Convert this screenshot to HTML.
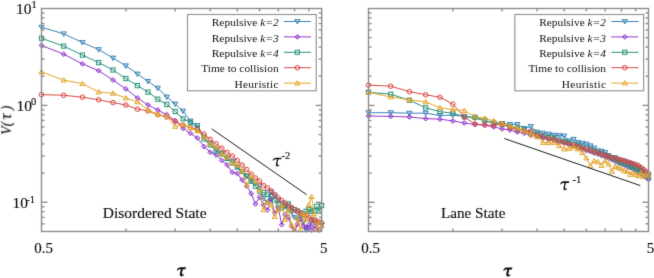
<!DOCTYPE html>
<html><head><meta charset="utf-8"><style>
html,body{margin:0;padding:0;background:#fff;width:654px;height:278px;overflow:hidden;}
svg{display:block;font-family:"Liberation Serif",serif;}
text{stroke:#111;stroke-width:0.15px;} text[stroke=none]{stroke:none;}
</style></head><body>
<svg width="654" height="278" viewBox="0 0 654 278" fill="#111">
<defs><filter id="bl" x="0" y="0" width="1" height="1" color-interpolation-filters="sRGB"><feConvolveMatrix order="3" kernelMatrix="0.01 0.08 0.01 0.08 0.64 0.08 0.01 0.08 0.01" edgeMode="duplicate" preserveAlpha="true"/></filter><clipPath id="c1"><rect x="41.5" y="8.5" width="280.20" height="223.0"/></clipPath><clipPath id="c2"><rect x="368.5" y="8.5" width="280.00" height="223.0"/></clipPath></defs>
<g filter="url(#bl)">
<rect x="-4" y="-4" width="662" height="286" fill="#fff"/>
<path clip-path="url(#c1)" d="M41.50,27.30L63.69,33.80L82.45,42.50L98.69,49.60L113.03,58.00L125.85,65.80L137.45,74.00L148.04,81.40L157.78,88.20L166.79,97.00L175.19,104.00L183.04,111.00L190.42,121.00L197.38,125.50L203.96,137.00L210.20,143.00L216.13,149.50L221.80,153.50L227.20,158.00L232.38,161.50L237.35,167.50L242.12,171.50L246.72,176.00L251.14,180.50L255.41,184.00L259.54,186.00L263.53,198.30L267.39,202.40L271.14,191.90L274.77,196.00L278.30,200.00L281.72,203.00L285.06,206.00L288.30,209.70L291.46,212.00L294.55,217.60L297.55,219.00L300.48,218.00L303.35,221.70L306.14,229.80L308.88,227.40L311.55,222.00L314.17,220.00L316.73,224.00L319.24,222.00L321.70,225.00" fill="none" stroke="#3a82b6" stroke-width="1"/>
<path d="M38.90,25.38L44.10,25.38L41.50,29.82Z" fill="#3a82b6" fill-opacity="0.15" stroke="#3a82b6" stroke-width="1"/>
<path d="M61.09,31.88L66.29,31.88L63.69,36.32Z" fill="#3a82b6" fill-opacity="0.15" stroke="#3a82b6" stroke-width="1"/>
<path d="M79.85,40.58L85.05,40.58L82.45,45.02Z" fill="#3a82b6" fill-opacity="0.15" stroke="#3a82b6" stroke-width="1"/>
<path d="M96.09,47.68L101.29,47.68L98.69,52.12Z" fill="#3a82b6" fill-opacity="0.15" stroke="#3a82b6" stroke-width="1"/>
<path d="M110.43,56.08L115.63,56.08L113.03,60.52Z" fill="#3a82b6" fill-opacity="0.15" stroke="#3a82b6" stroke-width="1"/>
<path d="M123.25,63.88L128.45,63.88L125.85,68.32Z" fill="#3a82b6" fill-opacity="0.15" stroke="#3a82b6" stroke-width="1"/>
<path d="M134.85,72.08L140.05,72.08L137.45,76.52Z" fill="#3a82b6" fill-opacity="0.15" stroke="#3a82b6" stroke-width="1"/>
<path d="M145.44,79.48L150.64,79.48L148.04,83.92Z" fill="#3a82b6" fill-opacity="0.15" stroke="#3a82b6" stroke-width="1"/>
<path d="M155.18,86.28L160.38,86.28L157.78,90.72Z" fill="#3a82b6" fill-opacity="0.15" stroke="#3a82b6" stroke-width="1"/>
<path d="M164.19,95.08L169.39,95.08L166.79,99.52Z" fill="#3a82b6" fill-opacity="0.15" stroke="#3a82b6" stroke-width="1"/>
<path d="M172.59,102.08L177.79,102.08L175.19,106.52Z" fill="#3a82b6" fill-opacity="0.15" stroke="#3a82b6" stroke-width="1"/>
<path d="M180.44,109.08L185.64,109.08L183.04,113.52Z" fill="#3a82b6" fill-opacity="0.15" stroke="#3a82b6" stroke-width="1"/>
<path d="M187.82,119.08L193.02,119.08L190.42,123.52Z" fill="#3a82b6" fill-opacity="0.15" stroke="#3a82b6" stroke-width="1"/>
<path d="M194.78,123.58L199.98,123.58L197.38,128.02Z" fill="#3a82b6" fill-opacity="0.15" stroke="#3a82b6" stroke-width="1"/>
<path d="M201.36,135.08L206.56,135.08L203.96,139.52Z" fill="#3a82b6" fill-opacity="0.15" stroke="#3a82b6" stroke-width="1"/>
<path d="M207.60,141.08L212.80,141.08L210.20,145.52Z" fill="#3a82b6" fill-opacity="0.15" stroke="#3a82b6" stroke-width="1"/>
<path d="M213.53,147.58L218.73,147.58L216.13,152.02Z" fill="#3a82b6" fill-opacity="0.15" stroke="#3a82b6" stroke-width="1"/>
<path d="M219.20,151.58L224.40,151.58L221.80,156.02Z" fill="#3a82b6" fill-opacity="0.15" stroke="#3a82b6" stroke-width="1"/>
<path d="M224.60,156.08L229.80,156.08L227.20,160.52Z" fill="#3a82b6" fill-opacity="0.15" stroke="#3a82b6" stroke-width="1"/>
<path d="M229.78,159.58L234.98,159.58L232.38,164.02Z" fill="#3a82b6" fill-opacity="0.15" stroke="#3a82b6" stroke-width="1"/>
<path d="M234.75,165.58L239.95,165.58L237.35,170.02Z" fill="#3a82b6" fill-opacity="0.15" stroke="#3a82b6" stroke-width="1"/>
<path d="M239.52,169.58L244.72,169.58L242.12,174.02Z" fill="#3a82b6" fill-opacity="0.15" stroke="#3a82b6" stroke-width="1"/>
<path d="M244.12,174.08L249.32,174.08L246.72,178.52Z" fill="#3a82b6" fill-opacity="0.15" stroke="#3a82b6" stroke-width="1"/>
<path d="M248.54,178.58L253.74,178.58L251.14,183.02Z" fill="#3a82b6" fill-opacity="0.15" stroke="#3a82b6" stroke-width="1"/>
<path d="M252.81,182.08L258.01,182.08L255.41,186.52Z" fill="#3a82b6" fill-opacity="0.15" stroke="#3a82b6" stroke-width="1"/>
<path d="M256.94,184.08L262.14,184.08L259.54,188.52Z" fill="#3a82b6" fill-opacity="0.15" stroke="#3a82b6" stroke-width="1"/>
<path d="M260.93,196.38L266.13,196.38L263.53,200.82Z" fill="#3a82b6" fill-opacity="0.15" stroke="#3a82b6" stroke-width="1"/>
<path d="M264.79,200.48L269.99,200.48L267.39,204.92Z" fill="#3a82b6" fill-opacity="0.15" stroke="#3a82b6" stroke-width="1"/>
<path d="M268.54,189.98L273.74,189.98L271.14,194.42Z" fill="#3a82b6" fill-opacity="0.15" stroke="#3a82b6" stroke-width="1"/>
<path d="M272.17,194.08L277.37,194.08L274.77,198.52Z" fill="#3a82b6" fill-opacity="0.15" stroke="#3a82b6" stroke-width="1"/>
<path d="M275.70,198.08L280.90,198.08L278.30,202.52Z" fill="#3a82b6" fill-opacity="0.15" stroke="#3a82b6" stroke-width="1"/>
<path d="M279.12,201.08L284.32,201.08L281.72,205.52Z" fill="#3a82b6" fill-opacity="0.15" stroke="#3a82b6" stroke-width="1"/>
<path d="M282.46,204.08L287.66,204.08L285.06,208.52Z" fill="#3a82b6" fill-opacity="0.15" stroke="#3a82b6" stroke-width="1"/>
<path d="M285.70,207.78L290.90,207.78L288.30,212.22Z" fill="#3a82b6" fill-opacity="0.15" stroke="#3a82b6" stroke-width="1"/>
<path d="M288.86,210.08L294.06,210.08L291.46,214.52Z" fill="#3a82b6" fill-opacity="0.15" stroke="#3a82b6" stroke-width="1"/>
<path d="M291.95,215.68L297.15,215.68L294.55,220.12Z" fill="#3a82b6" fill-opacity="0.15" stroke="#3a82b6" stroke-width="1"/>
<path d="M294.95,217.08L300.15,217.08L297.55,221.52Z" fill="#3a82b6" fill-opacity="0.15" stroke="#3a82b6" stroke-width="1"/>
<path d="M297.88,216.08L303.08,216.08L300.48,220.52Z" fill="#3a82b6" fill-opacity="0.15" stroke="#3a82b6" stroke-width="1"/>
<path d="M300.75,219.78L305.95,219.78L303.35,224.22Z" fill="#3a82b6" fill-opacity="0.15" stroke="#3a82b6" stroke-width="1"/>
<path d="M303.54,227.88L308.74,227.88L306.14,232.32Z" fill="#3a82b6" fill-opacity="0.15" stroke="#3a82b6" stroke-width="1"/>
<path d="M306.28,225.48L311.48,225.48L308.88,229.92Z" fill="#3a82b6" fill-opacity="0.15" stroke="#3a82b6" stroke-width="1"/>
<path d="M308.95,220.08L314.15,220.08L311.55,224.52Z" fill="#3a82b6" fill-opacity="0.15" stroke="#3a82b6" stroke-width="1"/>
<path d="M311.57,218.08L316.77,218.08L314.17,222.52Z" fill="#3a82b6" fill-opacity="0.15" stroke="#3a82b6" stroke-width="1"/>
<path d="M314.13,222.08L319.33,222.08L316.73,226.52Z" fill="#3a82b6" fill-opacity="0.15" stroke="#3a82b6" stroke-width="1"/>
<path d="M316.64,220.08L321.84,220.08L319.24,224.52Z" fill="#3a82b6" fill-opacity="0.15" stroke="#3a82b6" stroke-width="1"/>
<path d="M319.10,223.08L324.30,223.08L321.70,227.52Z" fill="#3a82b6" fill-opacity="0.15" stroke="#3a82b6" stroke-width="1"/>
<path clip-path="url(#c1)" d="M41.50,45.40L63.69,54.20L82.45,63.90L98.69,70.70L113.03,80.10L125.85,88.90L137.45,97.90L148.04,105.00L157.78,110.00L166.79,114.70L175.19,120.60L183.04,128.40L190.42,133.40L197.38,138.00L203.96,146.60L210.20,152.30L216.13,155.00L221.80,160.50L227.20,165.00L232.38,172.40L237.35,173.50L242.12,180.00L246.72,186.00L251.14,193.50L255.41,204.00L259.54,197.00L263.53,205.00L267.39,210.00L271.14,199.00L274.77,213.00L278.30,208.00L281.72,224.60L285.06,214.70L288.30,217.60L291.46,226.00L294.55,232.00L297.55,224.10L300.48,219.30L303.35,226.00L306.14,228.00L308.88,225.00L311.55,230.00L314.17,226.00L316.73,228.00L319.24,230.00L321.70,232.00" fill="none" stroke="#9236cc" stroke-width="1"/>
<path d="M41.50,43.00L43.90,45.40L41.50,47.80L39.10,45.40Z" fill="#9236cc" fill-opacity="0.3" stroke="#9236cc" stroke-width="1"/>
<path d="M63.69,51.80L66.09,54.20L63.69,56.60L61.29,54.20Z" fill="#9236cc" fill-opacity="0.3" stroke="#9236cc" stroke-width="1"/>
<path d="M82.45,61.50L84.85,63.90L82.45,66.30L80.05,63.90Z" fill="#9236cc" fill-opacity="0.3" stroke="#9236cc" stroke-width="1"/>
<path d="M98.69,68.30L101.09,70.70L98.69,73.10L96.29,70.70Z" fill="#9236cc" fill-opacity="0.3" stroke="#9236cc" stroke-width="1"/>
<path d="M113.03,77.70L115.43,80.10L113.03,82.50L110.63,80.10Z" fill="#9236cc" fill-opacity="0.3" stroke="#9236cc" stroke-width="1"/>
<path d="M125.85,86.50L128.25,88.90L125.85,91.30L123.45,88.90Z" fill="#9236cc" fill-opacity="0.3" stroke="#9236cc" stroke-width="1"/>
<path d="M137.45,95.50L139.85,97.90L137.45,100.30L135.05,97.90Z" fill="#9236cc" fill-opacity="0.3" stroke="#9236cc" stroke-width="1"/>
<path d="M148.04,102.60L150.44,105.00L148.04,107.40L145.64,105.00Z" fill="#9236cc" fill-opacity="0.3" stroke="#9236cc" stroke-width="1"/>
<path d="M157.78,107.60L160.18,110.00L157.78,112.40L155.38,110.00Z" fill="#9236cc" fill-opacity="0.3" stroke="#9236cc" stroke-width="1"/>
<path d="M166.79,112.30L169.19,114.70L166.79,117.10L164.39,114.70Z" fill="#9236cc" fill-opacity="0.3" stroke="#9236cc" stroke-width="1"/>
<path d="M175.19,118.20L177.59,120.60L175.19,123.00L172.79,120.60Z" fill="#9236cc" fill-opacity="0.3" stroke="#9236cc" stroke-width="1"/>
<path d="M183.04,126.00L185.44,128.40L183.04,130.80L180.64,128.40Z" fill="#9236cc" fill-opacity="0.3" stroke="#9236cc" stroke-width="1"/>
<path d="M190.42,131.00L192.82,133.40L190.42,135.80L188.02,133.40Z" fill="#9236cc" fill-opacity="0.3" stroke="#9236cc" stroke-width="1"/>
<path d="M197.38,135.60L199.78,138.00L197.38,140.40L194.98,138.00Z" fill="#9236cc" fill-opacity="0.3" stroke="#9236cc" stroke-width="1"/>
<path d="M203.96,144.20L206.36,146.60L203.96,149.00L201.56,146.60Z" fill="#9236cc" fill-opacity="0.3" stroke="#9236cc" stroke-width="1"/>
<path d="M210.20,149.90L212.60,152.30L210.20,154.70L207.80,152.30Z" fill="#9236cc" fill-opacity="0.3" stroke="#9236cc" stroke-width="1"/>
<path d="M216.13,152.60L218.53,155.00L216.13,157.40L213.73,155.00Z" fill="#9236cc" fill-opacity="0.3" stroke="#9236cc" stroke-width="1"/>
<path d="M221.80,158.10L224.20,160.50L221.80,162.90L219.40,160.50Z" fill="#9236cc" fill-opacity="0.3" stroke="#9236cc" stroke-width="1"/>
<path d="M227.20,162.60L229.60,165.00L227.20,167.40L224.80,165.00Z" fill="#9236cc" fill-opacity="0.3" stroke="#9236cc" stroke-width="1"/>
<path d="M232.38,170.00L234.78,172.40L232.38,174.80L229.98,172.40Z" fill="#9236cc" fill-opacity="0.3" stroke="#9236cc" stroke-width="1"/>
<path d="M237.35,171.10L239.75,173.50L237.35,175.90L234.95,173.50Z" fill="#9236cc" fill-opacity="0.3" stroke="#9236cc" stroke-width="1"/>
<path d="M242.12,177.60L244.52,180.00L242.12,182.40L239.72,180.00Z" fill="#9236cc" fill-opacity="0.3" stroke="#9236cc" stroke-width="1"/>
<path d="M246.72,183.60L249.12,186.00L246.72,188.40L244.32,186.00Z" fill="#9236cc" fill-opacity="0.3" stroke="#9236cc" stroke-width="1"/>
<path d="M251.14,191.10L253.54,193.50L251.14,195.90L248.74,193.50Z" fill="#9236cc" fill-opacity="0.3" stroke="#9236cc" stroke-width="1"/>
<path d="M255.41,201.60L257.81,204.00L255.41,206.40L253.01,204.00Z" fill="#9236cc" fill-opacity="0.3" stroke="#9236cc" stroke-width="1"/>
<path d="M259.54,194.60L261.94,197.00L259.54,199.40L257.14,197.00Z" fill="#9236cc" fill-opacity="0.3" stroke="#9236cc" stroke-width="1"/>
<path d="M263.53,202.60L265.93,205.00L263.53,207.40L261.13,205.00Z" fill="#9236cc" fill-opacity="0.3" stroke="#9236cc" stroke-width="1"/>
<path d="M267.39,207.60L269.79,210.00L267.39,212.40L264.99,210.00Z" fill="#9236cc" fill-opacity="0.3" stroke="#9236cc" stroke-width="1"/>
<path d="M271.14,196.60L273.54,199.00L271.14,201.40L268.74,199.00Z" fill="#9236cc" fill-opacity="0.3" stroke="#9236cc" stroke-width="1"/>
<path d="M274.77,210.60L277.17,213.00L274.77,215.40L272.37,213.00Z" fill="#9236cc" fill-opacity="0.3" stroke="#9236cc" stroke-width="1"/>
<path d="M278.30,205.60L280.70,208.00L278.30,210.40L275.90,208.00Z" fill="#9236cc" fill-opacity="0.3" stroke="#9236cc" stroke-width="1"/>
<path d="M281.72,222.20L284.12,224.60L281.72,227.00L279.32,224.60Z" fill="#9236cc" fill-opacity="0.3" stroke="#9236cc" stroke-width="1"/>
<path d="M285.06,212.30L287.46,214.70L285.06,217.10L282.66,214.70Z" fill="#9236cc" fill-opacity="0.3" stroke="#9236cc" stroke-width="1"/>
<path d="M288.30,215.20L290.70,217.60L288.30,220.00L285.90,217.60Z" fill="#9236cc" fill-opacity="0.3" stroke="#9236cc" stroke-width="1"/>
<path d="M291.46,223.60L293.86,226.00L291.46,228.40L289.06,226.00Z" fill="#9236cc" fill-opacity="0.3" stroke="#9236cc" stroke-width="1"/>
<path d="M297.55,221.70L299.95,224.10L297.55,226.50L295.15,224.10Z" fill="#9236cc" fill-opacity="0.3" stroke="#9236cc" stroke-width="1"/>
<path d="M300.48,216.90L302.88,219.30L300.48,221.70L298.08,219.30Z" fill="#9236cc" fill-opacity="0.3" stroke="#9236cc" stroke-width="1"/>
<path d="M303.35,223.60L305.75,226.00L303.35,228.40L300.95,226.00Z" fill="#9236cc" fill-opacity="0.3" stroke="#9236cc" stroke-width="1"/>
<path d="M306.14,225.60L308.54,228.00L306.14,230.40L303.74,228.00Z" fill="#9236cc" fill-opacity="0.3" stroke="#9236cc" stroke-width="1"/>
<path d="M308.88,222.60L311.28,225.00L308.88,227.40L306.48,225.00Z" fill="#9236cc" fill-opacity="0.3" stroke="#9236cc" stroke-width="1"/>
<path d="M311.55,227.60L313.95,230.00L311.55,232.40L309.15,230.00Z" fill="#9236cc" fill-opacity="0.3" stroke="#9236cc" stroke-width="1"/>
<path d="M314.17,223.60L316.57,226.00L314.17,228.40L311.77,226.00Z" fill="#9236cc" fill-opacity="0.3" stroke="#9236cc" stroke-width="1"/>
<path d="M316.73,225.60L319.13,228.00L316.73,230.40L314.33,228.00Z" fill="#9236cc" fill-opacity="0.3" stroke="#9236cc" stroke-width="1"/>
<path d="M319.24,227.60L321.64,230.00L319.24,232.40L316.84,230.00Z" fill="#9236cc" fill-opacity="0.3" stroke="#9236cc" stroke-width="1"/>
<path clip-path="url(#c1)" d="M41.50,38.30L63.69,46.10L82.45,55.10L98.69,62.60L113.03,70.00L125.85,78.50L137.45,85.60L148.04,92.10L157.78,99.20L166.79,104.40L175.19,111.50L183.04,118.80L190.42,122.50L197.38,128.00L203.96,139.00L210.20,145.00L216.13,151.00L221.80,154.00L227.20,158.50L232.38,163.00L237.35,167.00L242.12,171.50L246.72,176.00L251.14,181.30L255.41,186.20L259.54,191.00L263.53,192.50L267.39,194.30L271.14,196.50L274.77,200.00L278.30,204.80L281.72,207.70L285.06,205.70L288.30,203.80L291.46,208.70L294.55,209.70L297.55,211.00L300.48,213.00L303.35,215.00L306.14,211.20L308.88,209.60L311.55,211.50L314.17,210.50L316.73,206.30L319.24,211.20L321.70,205.50" fill="none" stroke="#27937a" stroke-width="1"/>
<rect x="39.40" y="36.20" width="4.2" height="4.2" fill="none" stroke="#27937a" stroke-width="1"/>
<rect x="61.59" y="44.00" width="4.2" height="4.2" fill="none" stroke="#27937a" stroke-width="1"/>
<rect x="80.35" y="53.00" width="4.2" height="4.2" fill="none" stroke="#27937a" stroke-width="1"/>
<rect x="96.59" y="60.50" width="4.2" height="4.2" fill="none" stroke="#27937a" stroke-width="1"/>
<rect x="110.93" y="67.90" width="4.2" height="4.2" fill="none" stroke="#27937a" stroke-width="1"/>
<rect x="123.75" y="76.40" width="4.2" height="4.2" fill="none" stroke="#27937a" stroke-width="1"/>
<rect x="135.35" y="83.50" width="4.2" height="4.2" fill="none" stroke="#27937a" stroke-width="1"/>
<rect x="145.94" y="90.00" width="4.2" height="4.2" fill="none" stroke="#27937a" stroke-width="1"/>
<rect x="155.68" y="97.10" width="4.2" height="4.2" fill="none" stroke="#27937a" stroke-width="1"/>
<rect x="164.69" y="102.30" width="4.2" height="4.2" fill="none" stroke="#27937a" stroke-width="1"/>
<rect x="173.09" y="109.40" width="4.2" height="4.2" fill="none" stroke="#27937a" stroke-width="1"/>
<rect x="180.94" y="116.70" width="4.2" height="4.2" fill="none" stroke="#27937a" stroke-width="1"/>
<rect x="188.32" y="120.40" width="4.2" height="4.2" fill="none" stroke="#27937a" stroke-width="1"/>
<rect x="195.28" y="125.90" width="4.2" height="4.2" fill="none" stroke="#27937a" stroke-width="1"/>
<rect x="201.86" y="136.90" width="4.2" height="4.2" fill="none" stroke="#27937a" stroke-width="1"/>
<rect x="208.10" y="142.90" width="4.2" height="4.2" fill="none" stroke="#27937a" stroke-width="1"/>
<rect x="214.03" y="148.90" width="4.2" height="4.2" fill="none" stroke="#27937a" stroke-width="1"/>
<rect x="219.70" y="151.90" width="4.2" height="4.2" fill="none" stroke="#27937a" stroke-width="1"/>
<rect x="225.10" y="156.40" width="4.2" height="4.2" fill="none" stroke="#27937a" stroke-width="1"/>
<rect x="230.28" y="160.90" width="4.2" height="4.2" fill="none" stroke="#27937a" stroke-width="1"/>
<rect x="235.25" y="164.90" width="4.2" height="4.2" fill="none" stroke="#27937a" stroke-width="1"/>
<rect x="240.02" y="169.40" width="4.2" height="4.2" fill="none" stroke="#27937a" stroke-width="1"/>
<rect x="244.62" y="173.90" width="4.2" height="4.2" fill="none" stroke="#27937a" stroke-width="1"/>
<rect x="249.04" y="179.20" width="4.2" height="4.2" fill="none" stroke="#27937a" stroke-width="1"/>
<rect x="253.31" y="184.10" width="4.2" height="4.2" fill="none" stroke="#27937a" stroke-width="1"/>
<rect x="257.44" y="188.90" width="4.2" height="4.2" fill="none" stroke="#27937a" stroke-width="1"/>
<rect x="261.43" y="190.40" width="4.2" height="4.2" fill="none" stroke="#27937a" stroke-width="1"/>
<rect x="265.29" y="192.20" width="4.2" height="4.2" fill="none" stroke="#27937a" stroke-width="1"/>
<rect x="269.04" y="194.40" width="4.2" height="4.2" fill="none" stroke="#27937a" stroke-width="1"/>
<rect x="272.67" y="197.90" width="4.2" height="4.2" fill="none" stroke="#27937a" stroke-width="1"/>
<rect x="276.20" y="202.70" width="4.2" height="4.2" fill="none" stroke="#27937a" stroke-width="1"/>
<rect x="279.62" y="205.60" width="4.2" height="4.2" fill="none" stroke="#27937a" stroke-width="1"/>
<rect x="282.96" y="203.60" width="4.2" height="4.2" fill="none" stroke="#27937a" stroke-width="1"/>
<rect x="286.20" y="201.70" width="4.2" height="4.2" fill="none" stroke="#27937a" stroke-width="1"/>
<rect x="289.36" y="206.60" width="4.2" height="4.2" fill="none" stroke="#27937a" stroke-width="1"/>
<rect x="292.45" y="207.60" width="4.2" height="4.2" fill="none" stroke="#27937a" stroke-width="1"/>
<rect x="295.45" y="208.90" width="4.2" height="4.2" fill="none" stroke="#27937a" stroke-width="1"/>
<rect x="298.38" y="210.90" width="4.2" height="4.2" fill="none" stroke="#27937a" stroke-width="1"/>
<rect x="301.25" y="212.90" width="4.2" height="4.2" fill="none" stroke="#27937a" stroke-width="1"/>
<rect x="304.04" y="209.10" width="4.2" height="4.2" fill="none" stroke="#27937a" stroke-width="1"/>
<rect x="306.78" y="207.50" width="4.2" height="4.2" fill="none" stroke="#27937a" stroke-width="1"/>
<rect x="309.45" y="209.40" width="4.2" height="4.2" fill="none" stroke="#27937a" stroke-width="1"/>
<rect x="312.07" y="208.40" width="4.2" height="4.2" fill="none" stroke="#27937a" stroke-width="1"/>
<rect x="314.63" y="204.20" width="4.2" height="4.2" fill="none" stroke="#27937a" stroke-width="1"/>
<rect x="317.14" y="209.10" width="4.2" height="4.2" fill="none" stroke="#27937a" stroke-width="1"/>
<rect x="319.60" y="203.40" width="4.2" height="4.2" fill="none" stroke="#27937a" stroke-width="1"/>
<path clip-path="url(#c1)" d="M41.50,94.60L63.69,95.30L82.45,97.20L98.69,99.80L113.03,102.60L125.85,105.00L137.45,109.20L148.04,110.90L157.78,114.70L166.79,117.00L175.19,121.20L183.04,125.10L190.42,127.70L197.38,129.60L203.96,134.00L210.20,139.40L216.13,143.80L221.80,148.30L227.20,152.40L232.38,156.00L237.35,160.50L242.12,165.00L246.72,169.50L251.14,174.00L255.41,178.00L259.54,181.00L263.53,185.50L267.39,188.00L271.14,191.00L274.77,194.50L278.30,198.00L281.72,200.50L285.06,203.00L288.30,205.50L291.46,207.50L294.55,209.70L297.55,211.50L300.48,213.00L303.35,214.50L306.14,216.00L308.88,217.50L311.55,219.50L314.17,220.50L316.73,221.50L319.24,222.50L321.70,223.00" fill="none" stroke="#da4846" stroke-width="1"/>
<circle cx="41.50" cy="94.60" r="2.3" fill="none" stroke="#da4846" stroke-width="1"/>
<circle cx="63.69" cy="95.30" r="2.3" fill="none" stroke="#da4846" stroke-width="1"/>
<circle cx="82.45" cy="97.20" r="2.3" fill="none" stroke="#da4846" stroke-width="1"/>
<circle cx="98.69" cy="99.80" r="2.3" fill="none" stroke="#da4846" stroke-width="1"/>
<circle cx="113.03" cy="102.60" r="2.3" fill="none" stroke="#da4846" stroke-width="1"/>
<circle cx="125.85" cy="105.00" r="2.3" fill="none" stroke="#da4846" stroke-width="1"/>
<circle cx="137.45" cy="109.20" r="2.3" fill="none" stroke="#da4846" stroke-width="1"/>
<circle cx="148.04" cy="110.90" r="2.3" fill="none" stroke="#da4846" stroke-width="1"/>
<circle cx="157.78" cy="114.70" r="2.3" fill="none" stroke="#da4846" stroke-width="1"/>
<circle cx="166.79" cy="117.00" r="2.3" fill="none" stroke="#da4846" stroke-width="1"/>
<circle cx="175.19" cy="121.20" r="2.3" fill="none" stroke="#da4846" stroke-width="1"/>
<circle cx="183.04" cy="125.10" r="2.3" fill="none" stroke="#da4846" stroke-width="1"/>
<circle cx="190.42" cy="127.70" r="2.3" fill="none" stroke="#da4846" stroke-width="1"/>
<circle cx="197.38" cy="129.60" r="2.3" fill="none" stroke="#da4846" stroke-width="1"/>
<circle cx="203.96" cy="134.00" r="2.3" fill="none" stroke="#da4846" stroke-width="1"/>
<circle cx="210.20" cy="139.40" r="2.3" fill="none" stroke="#da4846" stroke-width="1"/>
<circle cx="216.13" cy="143.80" r="2.3" fill="none" stroke="#da4846" stroke-width="1"/>
<circle cx="221.80" cy="148.30" r="2.3" fill="none" stroke="#da4846" stroke-width="1"/>
<circle cx="227.20" cy="152.40" r="2.3" fill="none" stroke="#da4846" stroke-width="1"/>
<circle cx="232.38" cy="156.00" r="2.3" fill="none" stroke="#da4846" stroke-width="1"/>
<circle cx="237.35" cy="160.50" r="2.3" fill="none" stroke="#da4846" stroke-width="1"/>
<circle cx="242.12" cy="165.00" r="2.3" fill="none" stroke="#da4846" stroke-width="1"/>
<circle cx="246.72" cy="169.50" r="2.3" fill="none" stroke="#da4846" stroke-width="1"/>
<circle cx="251.14" cy="174.00" r="2.3" fill="none" stroke="#da4846" stroke-width="1"/>
<circle cx="255.41" cy="178.00" r="2.3" fill="none" stroke="#da4846" stroke-width="1"/>
<circle cx="259.54" cy="181.00" r="2.3" fill="none" stroke="#da4846" stroke-width="1"/>
<circle cx="263.53" cy="185.50" r="2.3" fill="none" stroke="#da4846" stroke-width="1"/>
<circle cx="267.39" cy="188.00" r="2.3" fill="none" stroke="#da4846" stroke-width="1"/>
<circle cx="271.14" cy="191.00" r="2.3" fill="none" stroke="#da4846" stroke-width="1"/>
<circle cx="274.77" cy="194.50" r="2.3" fill="none" stroke="#da4846" stroke-width="1"/>
<circle cx="278.30" cy="198.00" r="2.3" fill="none" stroke="#da4846" stroke-width="1"/>
<circle cx="281.72" cy="200.50" r="2.3" fill="none" stroke="#da4846" stroke-width="1"/>
<circle cx="285.06" cy="203.00" r="2.3" fill="none" stroke="#da4846" stroke-width="1"/>
<circle cx="288.30" cy="205.50" r="2.3" fill="none" stroke="#da4846" stroke-width="1"/>
<circle cx="291.46" cy="207.50" r="2.3" fill="none" stroke="#da4846" stroke-width="1"/>
<circle cx="294.55" cy="209.70" r="2.3" fill="none" stroke="#da4846" stroke-width="1"/>
<circle cx="297.55" cy="211.50" r="2.3" fill="none" stroke="#da4846" stroke-width="1"/>
<circle cx="300.48" cy="213.00" r="2.3" fill="none" stroke="#da4846" stroke-width="1"/>
<circle cx="303.35" cy="214.50" r="2.3" fill="none" stroke="#da4846" stroke-width="1"/>
<circle cx="306.14" cy="216.00" r="2.3" fill="none" stroke="#da4846" stroke-width="1"/>
<circle cx="308.88" cy="217.50" r="2.3" fill="none" stroke="#da4846" stroke-width="1"/>
<circle cx="311.55" cy="219.50" r="2.3" fill="none" stroke="#da4846" stroke-width="1"/>
<circle cx="314.17" cy="220.50" r="2.3" fill="none" stroke="#da4846" stroke-width="1"/>
<circle cx="316.73" cy="221.50" r="2.3" fill="none" stroke="#da4846" stroke-width="1"/>
<circle cx="319.24" cy="222.50" r="2.3" fill="none" stroke="#da4846" stroke-width="1"/>
<circle cx="321.70" cy="223.00" r="2.3" fill="none" stroke="#da4846" stroke-width="1"/>
<path clip-path="url(#c1)" d="M41.50,72.00L63.69,80.10L82.45,83.60L98.69,92.00L113.03,93.30L125.85,98.00L137.45,101.80L148.04,110.20L157.78,114.10L166.79,116.40L175.19,126.40L183.04,124.40L190.42,127.70L197.38,131.00L203.96,137.00L210.20,144.00L216.13,147.00L221.80,154.00L227.20,157.00L232.38,163.00L237.35,165.00L242.12,171.00L246.72,185.00L251.14,176.00L255.41,181.00L259.54,190.00L263.53,209.70L267.39,201.80L271.14,205.00L274.77,216.60L278.30,209.70L281.72,205.00L285.06,219.60L288.30,210.00L291.46,224.60L294.55,229.50L297.55,218.00L300.48,229.80L303.35,214.00L306.14,220.00L308.88,204.70L311.55,196.60L314.17,214.00L316.73,229.00L319.24,222.00L321.70,226.00" fill="none" stroke="#e3a62c" stroke-width="1"/>
<path d="M38.90,73.92L44.10,73.92L41.50,69.48Z" fill="#e3a62c" fill-opacity="0.15" stroke="#e3a62c" stroke-width="1"/>
<path d="M61.09,82.02L66.29,82.02L63.69,77.58Z" fill="#e3a62c" fill-opacity="0.15" stroke="#e3a62c" stroke-width="1"/>
<path d="M79.85,85.52L85.05,85.52L82.45,81.08Z" fill="#e3a62c" fill-opacity="0.15" stroke="#e3a62c" stroke-width="1"/>
<path d="M96.09,93.92L101.29,93.92L98.69,89.48Z" fill="#e3a62c" fill-opacity="0.15" stroke="#e3a62c" stroke-width="1"/>
<path d="M110.43,95.22L115.63,95.22L113.03,90.78Z" fill="#e3a62c" fill-opacity="0.15" stroke="#e3a62c" stroke-width="1"/>
<path d="M123.25,99.92L128.45,99.92L125.85,95.48Z" fill="#e3a62c" fill-opacity="0.15" stroke="#e3a62c" stroke-width="1"/>
<path d="M134.85,103.72L140.05,103.72L137.45,99.28Z" fill="#e3a62c" fill-opacity="0.15" stroke="#e3a62c" stroke-width="1"/>
<path d="M145.44,112.12L150.64,112.12L148.04,107.68Z" fill="#e3a62c" fill-opacity="0.15" stroke="#e3a62c" stroke-width="1"/>
<path d="M155.18,116.02L160.38,116.02L157.78,111.58Z" fill="#e3a62c" fill-opacity="0.15" stroke="#e3a62c" stroke-width="1"/>
<path d="M164.19,118.32L169.39,118.32L166.79,113.88Z" fill="#e3a62c" fill-opacity="0.15" stroke="#e3a62c" stroke-width="1"/>
<path d="M172.59,128.32L177.79,128.32L175.19,123.88Z" fill="#e3a62c" fill-opacity="0.15" stroke="#e3a62c" stroke-width="1"/>
<path d="M180.44,126.32L185.64,126.32L183.04,121.88Z" fill="#e3a62c" fill-opacity="0.15" stroke="#e3a62c" stroke-width="1"/>
<path d="M187.82,129.62L193.02,129.62L190.42,125.18Z" fill="#e3a62c" fill-opacity="0.15" stroke="#e3a62c" stroke-width="1"/>
<path d="M194.78,132.92L199.98,132.92L197.38,128.48Z" fill="#e3a62c" fill-opacity="0.15" stroke="#e3a62c" stroke-width="1"/>
<path d="M201.36,138.92L206.56,138.92L203.96,134.48Z" fill="#e3a62c" fill-opacity="0.15" stroke="#e3a62c" stroke-width="1"/>
<path d="M207.60,145.92L212.80,145.92L210.20,141.48Z" fill="#e3a62c" fill-opacity="0.15" stroke="#e3a62c" stroke-width="1"/>
<path d="M213.53,148.92L218.73,148.92L216.13,144.48Z" fill="#e3a62c" fill-opacity="0.15" stroke="#e3a62c" stroke-width="1"/>
<path d="M219.20,155.92L224.40,155.92L221.80,151.48Z" fill="#e3a62c" fill-opacity="0.15" stroke="#e3a62c" stroke-width="1"/>
<path d="M224.60,158.92L229.80,158.92L227.20,154.48Z" fill="#e3a62c" fill-opacity="0.15" stroke="#e3a62c" stroke-width="1"/>
<path d="M229.78,164.92L234.98,164.92L232.38,160.48Z" fill="#e3a62c" fill-opacity="0.15" stroke="#e3a62c" stroke-width="1"/>
<path d="M234.75,166.92L239.95,166.92L237.35,162.48Z" fill="#e3a62c" fill-opacity="0.15" stroke="#e3a62c" stroke-width="1"/>
<path d="M239.52,172.92L244.72,172.92L242.12,168.48Z" fill="#e3a62c" fill-opacity="0.15" stroke="#e3a62c" stroke-width="1"/>
<path d="M244.12,186.92L249.32,186.92L246.72,182.48Z" fill="#e3a62c" fill-opacity="0.15" stroke="#e3a62c" stroke-width="1"/>
<path d="M248.54,177.92L253.74,177.92L251.14,173.48Z" fill="#e3a62c" fill-opacity="0.15" stroke="#e3a62c" stroke-width="1"/>
<path d="M252.81,182.92L258.01,182.92L255.41,178.48Z" fill="#e3a62c" fill-opacity="0.15" stroke="#e3a62c" stroke-width="1"/>
<path d="M256.94,191.92L262.14,191.92L259.54,187.48Z" fill="#e3a62c" fill-opacity="0.15" stroke="#e3a62c" stroke-width="1"/>
<path d="M260.93,211.62L266.13,211.62L263.53,207.18Z" fill="#e3a62c" fill-opacity="0.15" stroke="#e3a62c" stroke-width="1"/>
<path d="M264.79,203.72L269.99,203.72L267.39,199.28Z" fill="#e3a62c" fill-opacity="0.15" stroke="#e3a62c" stroke-width="1"/>
<path d="M268.54,206.92L273.74,206.92L271.14,202.48Z" fill="#e3a62c" fill-opacity="0.15" stroke="#e3a62c" stroke-width="1"/>
<path d="M272.17,218.52L277.37,218.52L274.77,214.08Z" fill="#e3a62c" fill-opacity="0.15" stroke="#e3a62c" stroke-width="1"/>
<path d="M275.70,211.62L280.90,211.62L278.30,207.18Z" fill="#e3a62c" fill-opacity="0.15" stroke="#e3a62c" stroke-width="1"/>
<path d="M279.12,206.92L284.32,206.92L281.72,202.48Z" fill="#e3a62c" fill-opacity="0.15" stroke="#e3a62c" stroke-width="1"/>
<path d="M282.46,221.52L287.66,221.52L285.06,217.08Z" fill="#e3a62c" fill-opacity="0.15" stroke="#e3a62c" stroke-width="1"/>
<path d="M285.70,211.92L290.90,211.92L288.30,207.48Z" fill="#e3a62c" fill-opacity="0.15" stroke="#e3a62c" stroke-width="1"/>
<path d="M288.86,226.52L294.06,226.52L291.46,222.08Z" fill="#e3a62c" fill-opacity="0.15" stroke="#e3a62c" stroke-width="1"/>
<path d="M291.95,231.42L297.15,231.42L294.55,226.98Z" fill="#e3a62c" fill-opacity="0.15" stroke="#e3a62c" stroke-width="1"/>
<path d="M294.95,219.92L300.15,219.92L297.55,215.48Z" fill="#e3a62c" fill-opacity="0.15" stroke="#e3a62c" stroke-width="1"/>
<path d="M297.88,231.72L303.08,231.72L300.48,227.28Z" fill="#e3a62c" fill-opacity="0.15" stroke="#e3a62c" stroke-width="1"/>
<path d="M300.75,215.92L305.95,215.92L303.35,211.48Z" fill="#e3a62c" fill-opacity="0.15" stroke="#e3a62c" stroke-width="1"/>
<path d="M303.54,221.92L308.74,221.92L306.14,217.48Z" fill="#e3a62c" fill-opacity="0.15" stroke="#e3a62c" stroke-width="1"/>
<path d="M306.28,206.62L311.48,206.62L308.88,202.18Z" fill="#e3a62c" fill-opacity="0.15" stroke="#e3a62c" stroke-width="1"/>
<path d="M308.95,198.52L314.15,198.52L311.55,194.08Z" fill="#e3a62c" fill-opacity="0.15" stroke="#e3a62c" stroke-width="1"/>
<path d="M311.57,215.92L316.77,215.92L314.17,211.48Z" fill="#e3a62c" fill-opacity="0.15" stroke="#e3a62c" stroke-width="1"/>
<path d="M314.13,230.92L319.33,230.92L316.73,226.48Z" fill="#e3a62c" fill-opacity="0.15" stroke="#e3a62c" stroke-width="1"/>
<path d="M316.64,223.92L321.84,223.92L319.24,219.48Z" fill="#e3a62c" fill-opacity="0.15" stroke="#e3a62c" stroke-width="1"/>
<path d="M319.10,227.92L324.30,227.92L321.70,223.48Z" fill="#e3a62c" fill-opacity="0.15" stroke="#e3a62c" stroke-width="1"/>
<g stroke="#8e8e8e" stroke-width="1.4" fill="none"><line x1="125.85" y1="8.5" x2="125.85" y2="11.5" />
<line x1="125.85" y1="231.5" x2="125.85" y2="228.5" />
<line x1="175.19" y1="8.5" x2="175.19" y2="11.5" />
<line x1="175.19" y1="231.5" x2="175.19" y2="228.5" />
<line x1="210.20" y1="8.5" x2="210.20" y2="11.5" />
<line x1="210.20" y1="231.5" x2="210.20" y2="228.5" />
<line x1="237.35" y1="8.5" x2="237.35" y2="11.5" />
<line x1="237.35" y1="231.5" x2="237.35" y2="228.5" />
<line x1="259.54" y1="8.5" x2="259.54" y2="11.5" />
<line x1="259.54" y1="231.5" x2="259.54" y2="228.5" />
<line x1="278.30" y1="8.5" x2="278.30" y2="11.5" />
<line x1="278.30" y1="231.5" x2="278.30" y2="228.5" />
<line x1="294.55" y1="8.5" x2="294.55" y2="11.5" />
<line x1="294.55" y1="231.5" x2="294.55" y2="228.5" />
<line x1="308.88" y1="8.5" x2="308.88" y2="11.5" />
<line x1="308.88" y1="231.5" x2="308.88" y2="228.5" />
<line x1="41.5" y1="223.83" x2="44.5" y2="223.83" />
<line x1="321.7" y1="223.83" x2="318.7" y2="223.83" />
<line x1="41.5" y1="217.34" x2="44.5" y2="217.34" />
<line x1="321.7" y1="217.34" x2="318.7" y2="217.34" />
<line x1="41.5" y1="211.72" x2="44.5" y2="211.72" />
<line x1="321.7" y1="211.72" x2="318.7" y2="211.72" />
<line x1="41.5" y1="206.76" x2="44.5" y2="206.76" />
<line x1="321.7" y1="206.76" x2="318.7" y2="206.76" />
<line x1="41.5" y1="202.33" x2="47.5" y2="202.33" />
<line x1="321.7" y1="202.33" x2="315.7" y2="202.33" />
<line x1="41.5" y1="173.15" x2="44.5" y2="173.15" />
<line x1="321.7" y1="173.15" x2="318.7" y2="173.15" />
<line x1="41.5" y1="156.09" x2="44.5" y2="156.09" />
<line x1="321.7" y1="156.09" x2="318.7" y2="156.09" />
<line x1="41.5" y1="143.98" x2="44.5" y2="143.98" />
<line x1="321.7" y1="143.98" x2="318.7" y2="143.98" />
<line x1="41.5" y1="134.59" x2="44.5" y2="134.59" />
<line x1="321.7" y1="134.59" x2="318.7" y2="134.59" />
<line x1="41.5" y1="126.91" x2="44.5" y2="126.91" />
<line x1="321.7" y1="126.91" x2="318.7" y2="126.91" />
<line x1="41.5" y1="120.43" x2="44.5" y2="120.43" />
<line x1="321.7" y1="120.43" x2="318.7" y2="120.43" />
<line x1="41.5" y1="114.80" x2="44.5" y2="114.80" />
<line x1="321.7" y1="114.80" x2="318.7" y2="114.80" />
<line x1="41.5" y1="109.85" x2="44.5" y2="109.85" />
<line x1="321.7" y1="109.85" x2="318.7" y2="109.85" />
<line x1="41.5" y1="105.41" x2="47.5" y2="105.41" />
<line x1="321.7" y1="105.41" x2="315.7" y2="105.41" />
<line x1="41.5" y1="76.24" x2="44.5" y2="76.24" />
<line x1="321.7" y1="76.24" x2="318.7" y2="76.24" />
<line x1="41.5" y1="59.17" x2="44.5" y2="59.17" />
<line x1="321.7" y1="59.17" x2="318.7" y2="59.17" />
<line x1="41.5" y1="47.07" x2="44.5" y2="47.07" />
<line x1="321.7" y1="47.07" x2="318.7" y2="47.07" />
<line x1="41.5" y1="37.67" x2="44.5" y2="37.67" />
<line x1="321.7" y1="37.67" x2="318.7" y2="37.67" />
<line x1="41.5" y1="30.00" x2="44.5" y2="30.00" />
<line x1="321.7" y1="30.00" x2="318.7" y2="30.00" />
<line x1="41.5" y1="23.51" x2="44.5" y2="23.51" />
<line x1="321.7" y1="23.51" x2="318.7" y2="23.51" />
<line x1="41.5" y1="17.89" x2="44.5" y2="17.89" />
<line x1="321.7" y1="17.89" x2="318.7" y2="17.89" />
<line x1="41.5" y1="12.93" x2="44.5" y2="12.93" />
<line x1="321.7" y1="12.93" x2="318.7" y2="12.93" />
<rect x="41.5" y="8.5" width="280.20" height="223.0" fill="none"/></g>
<path clip-path="url(#c2)" d="M368.50,112.70L390.67,112.70L409.42,113.20L425.65,113.20L439.98,115.50L452.79,115.10L464.38,116.40L474.96,118.00L484.69,120.90L493.70,123.00L502.09,123.50L509.94,124.50L517.31,124.50L524.26,128.40L530.84,126.50L537.08,132.00L543.01,133.10L548.67,134.10L554.07,135.20L559.25,135.50L564.21,136.00L568.98,140.90L573.57,139.30L577.99,142.50L582.26,143.20L586.38,144.00L590.37,145.80L594.23,148.00L597.97,150.80L601.60,151.20L605.13,152.50L608.55,155.70L611.88,157.50L615.13,157.70L618.29,159.50L621.37,160.70L624.37,161.50L627.30,162.70L630.16,163.50L632.96,164.50L635.69,166.00L638.36,167.50L640.98,169.00L643.54,171.00L646.04,173.00L648.50,175.50" fill="none" stroke="#3a82b6" stroke-width="1"/>
<path d="M365.90,110.78L371.10,110.78L368.50,115.22Z" fill="#3a82b6" fill-opacity="0.15" stroke="#3a82b6" stroke-width="1"/>
<path d="M388.07,110.78L393.27,110.78L390.67,115.22Z" fill="#3a82b6" fill-opacity="0.15" stroke="#3a82b6" stroke-width="1"/>
<path d="M406.82,111.28L412.02,111.28L409.42,115.72Z" fill="#3a82b6" fill-opacity="0.15" stroke="#3a82b6" stroke-width="1"/>
<path d="M423.05,111.28L428.25,111.28L425.65,115.72Z" fill="#3a82b6" fill-opacity="0.15" stroke="#3a82b6" stroke-width="1"/>
<path d="M437.38,113.58L442.58,113.58L439.98,118.02Z" fill="#3a82b6" fill-opacity="0.15" stroke="#3a82b6" stroke-width="1"/>
<path d="M450.19,113.18L455.39,113.18L452.79,117.62Z" fill="#3a82b6" fill-opacity="0.15" stroke="#3a82b6" stroke-width="1"/>
<path d="M461.78,114.48L466.98,114.48L464.38,118.92Z" fill="#3a82b6" fill-opacity="0.15" stroke="#3a82b6" stroke-width="1"/>
<path d="M472.36,116.08L477.56,116.08L474.96,120.52Z" fill="#3a82b6" fill-opacity="0.15" stroke="#3a82b6" stroke-width="1"/>
<path d="M482.09,118.98L487.29,118.98L484.69,123.42Z" fill="#3a82b6" fill-opacity="0.15" stroke="#3a82b6" stroke-width="1"/>
<path d="M491.10,121.08L496.30,121.08L493.70,125.52Z" fill="#3a82b6" fill-opacity="0.15" stroke="#3a82b6" stroke-width="1"/>
<path d="M499.49,121.58L504.69,121.58L502.09,126.02Z" fill="#3a82b6" fill-opacity="0.15" stroke="#3a82b6" stroke-width="1"/>
<path d="M507.34,122.58L512.54,122.58L509.94,127.02Z" fill="#3a82b6" fill-opacity="0.15" stroke="#3a82b6" stroke-width="1"/>
<path d="M514.71,122.58L519.91,122.58L517.31,127.02Z" fill="#3a82b6" fill-opacity="0.15" stroke="#3a82b6" stroke-width="1"/>
<path d="M521.66,126.48L526.86,126.48L524.26,130.92Z" fill="#3a82b6" fill-opacity="0.15" stroke="#3a82b6" stroke-width="1"/>
<path d="M528.24,124.58L533.44,124.58L530.84,129.02Z" fill="#3a82b6" fill-opacity="0.15" stroke="#3a82b6" stroke-width="1"/>
<path d="M534.48,130.08L539.68,130.08L537.08,134.52Z" fill="#3a82b6" fill-opacity="0.15" stroke="#3a82b6" stroke-width="1"/>
<path d="M540.41,131.18L545.61,131.18L543.01,135.62Z" fill="#3a82b6" fill-opacity="0.15" stroke="#3a82b6" stroke-width="1"/>
<path d="M546.07,132.18L551.27,132.18L548.67,136.62Z" fill="#3a82b6" fill-opacity="0.15" stroke="#3a82b6" stroke-width="1"/>
<path d="M551.47,133.28L556.67,133.28L554.07,137.72Z" fill="#3a82b6" fill-opacity="0.15" stroke="#3a82b6" stroke-width="1"/>
<path d="M556.65,133.58L561.85,133.58L559.25,138.02Z" fill="#3a82b6" fill-opacity="0.15" stroke="#3a82b6" stroke-width="1"/>
<path d="M561.61,134.08L566.81,134.08L564.21,138.52Z" fill="#3a82b6" fill-opacity="0.15" stroke="#3a82b6" stroke-width="1"/>
<path d="M566.38,138.98L571.58,138.98L568.98,143.42Z" fill="#3a82b6" fill-opacity="0.15" stroke="#3a82b6" stroke-width="1"/>
<path d="M570.97,137.38L576.17,137.38L573.57,141.82Z" fill="#3a82b6" fill-opacity="0.15" stroke="#3a82b6" stroke-width="1"/>
<path d="M575.39,140.58L580.59,140.58L577.99,145.02Z" fill="#3a82b6" fill-opacity="0.15" stroke="#3a82b6" stroke-width="1"/>
<path d="M579.66,141.28L584.86,141.28L582.26,145.72Z" fill="#3a82b6" fill-opacity="0.15" stroke="#3a82b6" stroke-width="1"/>
<path d="M583.78,142.08L588.98,142.08L586.38,146.52Z" fill="#3a82b6" fill-opacity="0.15" stroke="#3a82b6" stroke-width="1"/>
<path d="M587.77,143.88L592.97,143.88L590.37,148.32Z" fill="#3a82b6" fill-opacity="0.15" stroke="#3a82b6" stroke-width="1"/>
<path d="M591.63,146.08L596.83,146.08L594.23,150.52Z" fill="#3a82b6" fill-opacity="0.15" stroke="#3a82b6" stroke-width="1"/>
<path d="M595.37,148.88L600.57,148.88L597.97,153.32Z" fill="#3a82b6" fill-opacity="0.15" stroke="#3a82b6" stroke-width="1"/>
<path d="M599.00,149.28L604.20,149.28L601.60,153.72Z" fill="#3a82b6" fill-opacity="0.15" stroke="#3a82b6" stroke-width="1"/>
<path d="M602.53,150.58L607.73,150.58L605.13,155.02Z" fill="#3a82b6" fill-opacity="0.15" stroke="#3a82b6" stroke-width="1"/>
<path d="M605.95,153.78L611.15,153.78L608.55,158.22Z" fill="#3a82b6" fill-opacity="0.15" stroke="#3a82b6" stroke-width="1"/>
<path d="M609.28,155.58L614.48,155.58L611.88,160.02Z" fill="#3a82b6" fill-opacity="0.15" stroke="#3a82b6" stroke-width="1"/>
<path d="M612.53,155.78L617.73,155.78L615.13,160.22Z" fill="#3a82b6" fill-opacity="0.15" stroke="#3a82b6" stroke-width="1"/>
<path d="M615.69,157.58L620.89,157.58L618.29,162.02Z" fill="#3a82b6" fill-opacity="0.15" stroke="#3a82b6" stroke-width="1"/>
<path d="M618.77,158.78L623.97,158.78L621.37,163.22Z" fill="#3a82b6" fill-opacity="0.15" stroke="#3a82b6" stroke-width="1"/>
<path d="M621.77,159.58L626.97,159.58L624.37,164.02Z" fill="#3a82b6" fill-opacity="0.15" stroke="#3a82b6" stroke-width="1"/>
<path d="M624.70,160.78L629.90,160.78L627.30,165.22Z" fill="#3a82b6" fill-opacity="0.15" stroke="#3a82b6" stroke-width="1"/>
<path d="M627.56,161.58L632.76,161.58L630.16,166.02Z" fill="#3a82b6" fill-opacity="0.15" stroke="#3a82b6" stroke-width="1"/>
<path d="M630.36,162.58L635.56,162.58L632.96,167.02Z" fill="#3a82b6" fill-opacity="0.15" stroke="#3a82b6" stroke-width="1"/>
<path d="M633.09,164.08L638.29,164.08L635.69,168.52Z" fill="#3a82b6" fill-opacity="0.15" stroke="#3a82b6" stroke-width="1"/>
<path d="M635.76,165.58L640.96,165.58L638.36,170.02Z" fill="#3a82b6" fill-opacity="0.15" stroke="#3a82b6" stroke-width="1"/>
<path d="M638.38,167.08L643.58,167.08L640.98,171.52Z" fill="#3a82b6" fill-opacity="0.15" stroke="#3a82b6" stroke-width="1"/>
<path d="M640.94,169.08L646.14,169.08L643.54,173.52Z" fill="#3a82b6" fill-opacity="0.15" stroke="#3a82b6" stroke-width="1"/>
<path d="M643.44,171.08L648.64,171.08L646.04,175.52Z" fill="#3a82b6" fill-opacity="0.15" stroke="#3a82b6" stroke-width="1"/>
<path d="M645.90,173.58L651.10,173.58L648.50,178.02Z" fill="#3a82b6" fill-opacity="0.15" stroke="#3a82b6" stroke-width="1"/>
<path clip-path="url(#c2)" d="M368.50,116.00L390.67,116.40L409.42,117.00L425.65,118.60L439.98,119.20L452.79,120.90L464.38,123.00L474.96,124.50L484.69,125.20L493.70,126.90L502.09,128.90L509.94,130.00L517.31,132.10L524.26,133.20L530.84,135.30L537.08,136.50L543.01,138.00L548.67,139.50L554.07,140.50L559.25,141.50L564.21,143.00L568.98,144.50L573.57,146.00L577.99,147.50L582.26,149.00L586.38,150.50L590.37,151.50L594.23,153.00L597.97,154.00L601.60,155.50L605.13,156.50L608.55,158.00L611.88,159.50L615.13,161.00L618.29,162.50L621.37,164.00L624.37,165.00L627.30,166.50L630.16,167.50L632.96,169.00L635.69,170.50L638.36,172.00L640.98,173.50L643.54,175.50L646.04,177.50L648.50,179.50" fill="none" stroke="#9236cc" stroke-width="1"/>
<path d="M368.50,113.60L370.90,116.00L368.50,118.40L366.10,116.00Z" fill="#9236cc" fill-opacity="0.3" stroke="#9236cc" stroke-width="1"/>
<path d="M390.67,114.00L393.07,116.40L390.67,118.80L388.27,116.40Z" fill="#9236cc" fill-opacity="0.3" stroke="#9236cc" stroke-width="1"/>
<path d="M409.42,114.60L411.82,117.00L409.42,119.40L407.02,117.00Z" fill="#9236cc" fill-opacity="0.3" stroke="#9236cc" stroke-width="1"/>
<path d="M425.65,116.20L428.05,118.60L425.65,121.00L423.25,118.60Z" fill="#9236cc" fill-opacity="0.3" stroke="#9236cc" stroke-width="1"/>
<path d="M439.98,116.80L442.38,119.20L439.98,121.60L437.58,119.20Z" fill="#9236cc" fill-opacity="0.3" stroke="#9236cc" stroke-width="1"/>
<path d="M452.79,118.50L455.19,120.90L452.79,123.30L450.39,120.90Z" fill="#9236cc" fill-opacity="0.3" stroke="#9236cc" stroke-width="1"/>
<path d="M464.38,120.60L466.78,123.00L464.38,125.40L461.98,123.00Z" fill="#9236cc" fill-opacity="0.3" stroke="#9236cc" stroke-width="1"/>
<path d="M474.96,122.10L477.36,124.50L474.96,126.90L472.56,124.50Z" fill="#9236cc" fill-opacity="0.3" stroke="#9236cc" stroke-width="1"/>
<path d="M484.69,122.80L487.09,125.20L484.69,127.60L482.29,125.20Z" fill="#9236cc" fill-opacity="0.3" stroke="#9236cc" stroke-width="1"/>
<path d="M493.70,124.50L496.10,126.90L493.70,129.30L491.30,126.90Z" fill="#9236cc" fill-opacity="0.3" stroke="#9236cc" stroke-width="1"/>
<path d="M502.09,126.50L504.49,128.90L502.09,131.30L499.69,128.90Z" fill="#9236cc" fill-opacity="0.3" stroke="#9236cc" stroke-width="1"/>
<path d="M509.94,127.60L512.34,130.00L509.94,132.40L507.54,130.00Z" fill="#9236cc" fill-opacity="0.3" stroke="#9236cc" stroke-width="1"/>
<path d="M517.31,129.70L519.71,132.10L517.31,134.50L514.91,132.10Z" fill="#9236cc" fill-opacity="0.3" stroke="#9236cc" stroke-width="1"/>
<path d="M524.26,130.80L526.66,133.20L524.26,135.60L521.86,133.20Z" fill="#9236cc" fill-opacity="0.3" stroke="#9236cc" stroke-width="1"/>
<path d="M530.84,132.90L533.24,135.30L530.84,137.70L528.44,135.30Z" fill="#9236cc" fill-opacity="0.3" stroke="#9236cc" stroke-width="1"/>
<path d="M537.08,134.10L539.48,136.50L537.08,138.90L534.68,136.50Z" fill="#9236cc" fill-opacity="0.3" stroke="#9236cc" stroke-width="1"/>
<path d="M543.01,135.60L545.41,138.00L543.01,140.40L540.61,138.00Z" fill="#9236cc" fill-opacity="0.3" stroke="#9236cc" stroke-width="1"/>
<path d="M548.67,137.10L551.07,139.50L548.67,141.90L546.27,139.50Z" fill="#9236cc" fill-opacity="0.3" stroke="#9236cc" stroke-width="1"/>
<path d="M554.07,138.10L556.47,140.50L554.07,142.90L551.67,140.50Z" fill="#9236cc" fill-opacity="0.3" stroke="#9236cc" stroke-width="1"/>
<path d="M559.25,139.10L561.65,141.50L559.25,143.90L556.85,141.50Z" fill="#9236cc" fill-opacity="0.3" stroke="#9236cc" stroke-width="1"/>
<path d="M564.21,140.60L566.61,143.00L564.21,145.40L561.81,143.00Z" fill="#9236cc" fill-opacity="0.3" stroke="#9236cc" stroke-width="1"/>
<path d="M568.98,142.10L571.38,144.50L568.98,146.90L566.58,144.50Z" fill="#9236cc" fill-opacity="0.3" stroke="#9236cc" stroke-width="1"/>
<path d="M573.57,143.60L575.97,146.00L573.57,148.40L571.17,146.00Z" fill="#9236cc" fill-opacity="0.3" stroke="#9236cc" stroke-width="1"/>
<path d="M577.99,145.10L580.39,147.50L577.99,149.90L575.59,147.50Z" fill="#9236cc" fill-opacity="0.3" stroke="#9236cc" stroke-width="1"/>
<path d="M582.26,146.60L584.66,149.00L582.26,151.40L579.86,149.00Z" fill="#9236cc" fill-opacity="0.3" stroke="#9236cc" stroke-width="1"/>
<path d="M586.38,148.10L588.78,150.50L586.38,152.90L583.98,150.50Z" fill="#9236cc" fill-opacity="0.3" stroke="#9236cc" stroke-width="1"/>
<path d="M590.37,149.10L592.77,151.50L590.37,153.90L587.97,151.50Z" fill="#9236cc" fill-opacity="0.3" stroke="#9236cc" stroke-width="1"/>
<path d="M594.23,150.60L596.63,153.00L594.23,155.40L591.83,153.00Z" fill="#9236cc" fill-opacity="0.3" stroke="#9236cc" stroke-width="1"/>
<path d="M597.97,151.60L600.37,154.00L597.97,156.40L595.57,154.00Z" fill="#9236cc" fill-opacity="0.3" stroke="#9236cc" stroke-width="1"/>
<path d="M601.60,153.10L604.00,155.50L601.60,157.90L599.20,155.50Z" fill="#9236cc" fill-opacity="0.3" stroke="#9236cc" stroke-width="1"/>
<path d="M605.13,154.10L607.53,156.50L605.13,158.90L602.73,156.50Z" fill="#9236cc" fill-opacity="0.3" stroke="#9236cc" stroke-width="1"/>
<path d="M608.55,155.60L610.95,158.00L608.55,160.40L606.15,158.00Z" fill="#9236cc" fill-opacity="0.3" stroke="#9236cc" stroke-width="1"/>
<path d="M611.88,157.10L614.28,159.50L611.88,161.90L609.48,159.50Z" fill="#9236cc" fill-opacity="0.3" stroke="#9236cc" stroke-width="1"/>
<path d="M615.13,158.60L617.53,161.00L615.13,163.40L612.73,161.00Z" fill="#9236cc" fill-opacity="0.3" stroke="#9236cc" stroke-width="1"/>
<path d="M618.29,160.10L620.69,162.50L618.29,164.90L615.89,162.50Z" fill="#9236cc" fill-opacity="0.3" stroke="#9236cc" stroke-width="1"/>
<path d="M621.37,161.60L623.77,164.00L621.37,166.40L618.97,164.00Z" fill="#9236cc" fill-opacity="0.3" stroke="#9236cc" stroke-width="1"/>
<path d="M624.37,162.60L626.77,165.00L624.37,167.40L621.97,165.00Z" fill="#9236cc" fill-opacity="0.3" stroke="#9236cc" stroke-width="1"/>
<path d="M627.30,164.10L629.70,166.50L627.30,168.90L624.90,166.50Z" fill="#9236cc" fill-opacity="0.3" stroke="#9236cc" stroke-width="1"/>
<path d="M630.16,165.10L632.56,167.50L630.16,169.90L627.76,167.50Z" fill="#9236cc" fill-opacity="0.3" stroke="#9236cc" stroke-width="1"/>
<path d="M632.96,166.60L635.36,169.00L632.96,171.40L630.56,169.00Z" fill="#9236cc" fill-opacity="0.3" stroke="#9236cc" stroke-width="1"/>
<path d="M635.69,168.10L638.09,170.50L635.69,172.90L633.29,170.50Z" fill="#9236cc" fill-opacity="0.3" stroke="#9236cc" stroke-width="1"/>
<path d="M638.36,169.60L640.76,172.00L638.36,174.40L635.96,172.00Z" fill="#9236cc" fill-opacity="0.3" stroke="#9236cc" stroke-width="1"/>
<path d="M640.98,171.10L643.38,173.50L640.98,175.90L638.58,173.50Z" fill="#9236cc" fill-opacity="0.3" stroke="#9236cc" stroke-width="1"/>
<path d="M643.54,173.10L645.94,175.50L643.54,177.90L641.14,175.50Z" fill="#9236cc" fill-opacity="0.3" stroke="#9236cc" stroke-width="1"/>
<path d="M646.04,175.10L648.44,177.50L646.04,179.90L643.64,177.50Z" fill="#9236cc" fill-opacity="0.3" stroke="#9236cc" stroke-width="1"/>
<path d="M648.50,177.10L650.90,179.50L648.50,181.90L646.10,179.50Z" fill="#9236cc" fill-opacity="0.3" stroke="#9236cc" stroke-width="1"/>
<path clip-path="url(#c2)" d="M368.50,92.20L390.67,94.20L409.42,100.20L425.65,107.80L439.98,111.70L452.79,113.30L464.38,116.60L474.96,117.30L484.69,120.10L493.70,123.00L502.09,124.50L509.94,126.50L517.31,128.50L524.26,130.00L530.84,132.00L537.08,134.00L543.01,136.00L548.67,137.50L554.07,138.50L559.25,140.00L564.21,141.50L568.98,143.00L573.57,144.50L577.99,146.00L582.26,147.00L586.38,148.50L590.37,150.00L594.23,151.50L597.97,152.50L601.60,154.00L605.13,155.00L608.55,156.50L611.88,158.00L615.13,159.50L618.29,161.00L621.37,162.50L624.37,163.50L627.30,164.50L630.16,166.00L632.96,167.00L635.69,168.00L638.36,169.50L640.98,171.00L643.54,173.00L646.04,175.00L648.50,177.00" fill="none" stroke="#27937a" stroke-width="1"/>
<rect x="366.40" y="90.10" width="4.2" height="4.2" fill="none" stroke="#27937a" stroke-width="1"/>
<rect x="388.57" y="92.10" width="4.2" height="4.2" fill="none" stroke="#27937a" stroke-width="1"/>
<rect x="407.32" y="98.10" width="4.2" height="4.2" fill="none" stroke="#27937a" stroke-width="1"/>
<rect x="423.55" y="105.70" width="4.2" height="4.2" fill="none" stroke="#27937a" stroke-width="1"/>
<rect x="437.88" y="109.60" width="4.2" height="4.2" fill="none" stroke="#27937a" stroke-width="1"/>
<rect x="450.69" y="111.20" width="4.2" height="4.2" fill="none" stroke="#27937a" stroke-width="1"/>
<rect x="462.28" y="114.50" width="4.2" height="4.2" fill="none" stroke="#27937a" stroke-width="1"/>
<rect x="472.86" y="115.20" width="4.2" height="4.2" fill="none" stroke="#27937a" stroke-width="1"/>
<rect x="482.59" y="118.00" width="4.2" height="4.2" fill="none" stroke="#27937a" stroke-width="1"/>
<rect x="491.60" y="120.90" width="4.2" height="4.2" fill="none" stroke="#27937a" stroke-width="1"/>
<rect x="499.99" y="122.40" width="4.2" height="4.2" fill="none" stroke="#27937a" stroke-width="1"/>
<rect x="507.84" y="124.40" width="4.2" height="4.2" fill="none" stroke="#27937a" stroke-width="1"/>
<rect x="515.21" y="126.40" width="4.2" height="4.2" fill="none" stroke="#27937a" stroke-width="1"/>
<rect x="522.16" y="127.90" width="4.2" height="4.2" fill="none" stroke="#27937a" stroke-width="1"/>
<rect x="528.74" y="129.90" width="4.2" height="4.2" fill="none" stroke="#27937a" stroke-width="1"/>
<rect x="534.98" y="131.90" width="4.2" height="4.2" fill="none" stroke="#27937a" stroke-width="1"/>
<rect x="540.91" y="133.90" width="4.2" height="4.2" fill="none" stroke="#27937a" stroke-width="1"/>
<rect x="546.57" y="135.40" width="4.2" height="4.2" fill="none" stroke="#27937a" stroke-width="1"/>
<rect x="551.97" y="136.40" width="4.2" height="4.2" fill="none" stroke="#27937a" stroke-width="1"/>
<rect x="557.15" y="137.90" width="4.2" height="4.2" fill="none" stroke="#27937a" stroke-width="1"/>
<rect x="562.11" y="139.40" width="4.2" height="4.2" fill="none" stroke="#27937a" stroke-width="1"/>
<rect x="566.88" y="140.90" width="4.2" height="4.2" fill="none" stroke="#27937a" stroke-width="1"/>
<rect x="571.47" y="142.40" width="4.2" height="4.2" fill="none" stroke="#27937a" stroke-width="1"/>
<rect x="575.89" y="143.90" width="4.2" height="4.2" fill="none" stroke="#27937a" stroke-width="1"/>
<rect x="580.16" y="144.90" width="4.2" height="4.2" fill="none" stroke="#27937a" stroke-width="1"/>
<rect x="584.28" y="146.40" width="4.2" height="4.2" fill="none" stroke="#27937a" stroke-width="1"/>
<rect x="588.27" y="147.90" width="4.2" height="4.2" fill="none" stroke="#27937a" stroke-width="1"/>
<rect x="592.13" y="149.40" width="4.2" height="4.2" fill="none" stroke="#27937a" stroke-width="1"/>
<rect x="595.87" y="150.40" width="4.2" height="4.2" fill="none" stroke="#27937a" stroke-width="1"/>
<rect x="599.50" y="151.90" width="4.2" height="4.2" fill="none" stroke="#27937a" stroke-width="1"/>
<rect x="603.03" y="152.90" width="4.2" height="4.2" fill="none" stroke="#27937a" stroke-width="1"/>
<rect x="606.45" y="154.40" width="4.2" height="4.2" fill="none" stroke="#27937a" stroke-width="1"/>
<rect x="609.78" y="155.90" width="4.2" height="4.2" fill="none" stroke="#27937a" stroke-width="1"/>
<rect x="613.03" y="157.40" width="4.2" height="4.2" fill="none" stroke="#27937a" stroke-width="1"/>
<rect x="616.19" y="158.90" width="4.2" height="4.2" fill="none" stroke="#27937a" stroke-width="1"/>
<rect x="619.27" y="160.40" width="4.2" height="4.2" fill="none" stroke="#27937a" stroke-width="1"/>
<rect x="622.27" y="161.40" width="4.2" height="4.2" fill="none" stroke="#27937a" stroke-width="1"/>
<rect x="625.20" y="162.40" width="4.2" height="4.2" fill="none" stroke="#27937a" stroke-width="1"/>
<rect x="628.06" y="163.90" width="4.2" height="4.2" fill="none" stroke="#27937a" stroke-width="1"/>
<rect x="630.86" y="164.90" width="4.2" height="4.2" fill="none" stroke="#27937a" stroke-width="1"/>
<rect x="633.59" y="165.90" width="4.2" height="4.2" fill="none" stroke="#27937a" stroke-width="1"/>
<rect x="636.26" y="167.40" width="4.2" height="4.2" fill="none" stroke="#27937a" stroke-width="1"/>
<rect x="638.88" y="168.90" width="4.2" height="4.2" fill="none" stroke="#27937a" stroke-width="1"/>
<rect x="641.44" y="170.90" width="4.2" height="4.2" fill="none" stroke="#27937a" stroke-width="1"/>
<rect x="643.94" y="172.90" width="4.2" height="4.2" fill="none" stroke="#27937a" stroke-width="1"/>
<rect x="646.40" y="174.90" width="4.2" height="4.2" fill="none" stroke="#27937a" stroke-width="1"/>
<path clip-path="url(#c2)" d="M368.50,85.10L390.67,86.20L409.42,91.60L425.65,94.80L439.98,97.20L452.79,104.00L464.38,117.20L474.96,124.00L484.69,124.90L493.70,125.50L502.09,124.00L509.94,127.80L517.31,129.30L524.26,131.00L530.84,131.50L537.08,135.20L543.01,136.80L548.67,138.90L554.07,139.30L559.25,141.70L564.21,142.50L568.98,144.10L573.57,144.90L577.99,146.50L582.26,148.30L586.38,149.00L590.37,150.30L594.23,152.10L597.97,153.00L601.60,154.40L605.13,155.70L608.55,156.20L611.88,158.00L615.13,158.40L618.29,159.20L621.37,160.00L624.37,160.70L627.30,161.70L630.16,162.70L632.96,163.70L635.69,164.70L638.36,165.60L640.98,167.60L643.54,169.60L646.04,171.60L648.50,173.50" fill="none" stroke="#da4846" stroke-width="1"/>
<circle cx="368.50" cy="85.10" r="2.3" fill="none" stroke="#da4846" stroke-width="1"/>
<circle cx="390.67" cy="86.20" r="2.3" fill="none" stroke="#da4846" stroke-width="1"/>
<circle cx="409.42" cy="91.60" r="2.3" fill="none" stroke="#da4846" stroke-width="1"/>
<circle cx="425.65" cy="94.80" r="2.3" fill="none" stroke="#da4846" stroke-width="1"/>
<circle cx="439.98" cy="97.20" r="2.3" fill="none" stroke="#da4846" stroke-width="1"/>
<circle cx="452.79" cy="104.00" r="2.3" fill="none" stroke="#da4846" stroke-width="1"/>
<circle cx="464.38" cy="117.20" r="2.3" fill="none" stroke="#da4846" stroke-width="1"/>
<circle cx="474.96" cy="124.00" r="2.3" fill="none" stroke="#da4846" stroke-width="1"/>
<circle cx="484.69" cy="124.90" r="2.3" fill="none" stroke="#da4846" stroke-width="1"/>
<circle cx="493.70" cy="125.50" r="2.3" fill="none" stroke="#da4846" stroke-width="1"/>
<circle cx="502.09" cy="124.00" r="2.3" fill="none" stroke="#da4846" stroke-width="1"/>
<circle cx="509.94" cy="127.80" r="2.3" fill="none" stroke="#da4846" stroke-width="1"/>
<circle cx="517.31" cy="129.30" r="2.3" fill="none" stroke="#da4846" stroke-width="1"/>
<circle cx="524.26" cy="131.00" r="2.3" fill="none" stroke="#da4846" stroke-width="1"/>
<circle cx="530.84" cy="131.50" r="2.3" fill="none" stroke="#da4846" stroke-width="1"/>
<circle cx="537.08" cy="135.20" r="2.3" fill="none" stroke="#da4846" stroke-width="1"/>
<circle cx="543.01" cy="136.80" r="2.3" fill="none" stroke="#da4846" stroke-width="1"/>
<circle cx="548.67" cy="138.90" r="2.3" fill="none" stroke="#da4846" stroke-width="1"/>
<circle cx="554.07" cy="139.30" r="2.3" fill="none" stroke="#da4846" stroke-width="1"/>
<circle cx="559.25" cy="141.70" r="2.3" fill="none" stroke="#da4846" stroke-width="1"/>
<circle cx="564.21" cy="142.50" r="2.3" fill="none" stroke="#da4846" stroke-width="1"/>
<circle cx="568.98" cy="144.10" r="2.3" fill="none" stroke="#da4846" stroke-width="1"/>
<circle cx="573.57" cy="144.90" r="2.3" fill="none" stroke="#da4846" stroke-width="1"/>
<circle cx="577.99" cy="146.50" r="2.3" fill="none" stroke="#da4846" stroke-width="1"/>
<circle cx="582.26" cy="148.30" r="2.3" fill="none" stroke="#da4846" stroke-width="1"/>
<circle cx="586.38" cy="149.00" r="2.3" fill="none" stroke="#da4846" stroke-width="1"/>
<circle cx="590.37" cy="150.30" r="2.3" fill="none" stroke="#da4846" stroke-width="1"/>
<circle cx="594.23" cy="152.10" r="2.3" fill="none" stroke="#da4846" stroke-width="1"/>
<circle cx="597.97" cy="153.00" r="2.3" fill="none" stroke="#da4846" stroke-width="1"/>
<circle cx="601.60" cy="154.40" r="2.3" fill="none" stroke="#da4846" stroke-width="1"/>
<circle cx="605.13" cy="155.70" r="2.3" fill="none" stroke="#da4846" stroke-width="1"/>
<circle cx="608.55" cy="156.20" r="2.3" fill="none" stroke="#da4846" stroke-width="1"/>
<circle cx="611.88" cy="158.00" r="2.3" fill="none" stroke="#da4846" stroke-width="1"/>
<circle cx="615.13" cy="158.40" r="2.3" fill="none" stroke="#da4846" stroke-width="1"/>
<circle cx="618.29" cy="159.20" r="2.3" fill="none" stroke="#da4846" stroke-width="1"/>
<circle cx="621.37" cy="160.00" r="2.3" fill="none" stroke="#da4846" stroke-width="1"/>
<circle cx="624.37" cy="160.70" r="2.3" fill="none" stroke="#da4846" stroke-width="1"/>
<circle cx="627.30" cy="161.70" r="2.3" fill="none" stroke="#da4846" stroke-width="1"/>
<circle cx="630.16" cy="162.70" r="2.3" fill="none" stroke="#da4846" stroke-width="1"/>
<circle cx="632.96" cy="163.70" r="2.3" fill="none" stroke="#da4846" stroke-width="1"/>
<circle cx="635.69" cy="164.70" r="2.3" fill="none" stroke="#da4846" stroke-width="1"/>
<circle cx="638.36" cy="165.60" r="2.3" fill="none" stroke="#da4846" stroke-width="1"/>
<circle cx="640.98" cy="167.60" r="2.3" fill="none" stroke="#da4846" stroke-width="1"/>
<circle cx="643.54" cy="169.60" r="2.3" fill="none" stroke="#da4846" stroke-width="1"/>
<circle cx="646.04" cy="171.60" r="2.3" fill="none" stroke="#da4846" stroke-width="1"/>
<circle cx="648.50" cy="173.50" r="2.3" fill="none" stroke="#da4846" stroke-width="1"/>
<path clip-path="url(#c2)" d="M368.50,92.20L390.67,97.00L409.42,99.80L425.65,101.90L439.98,107.80L452.79,109.40L464.38,110.60L474.96,116.70L484.69,118.40L493.70,120.80L502.09,123.50L509.94,126.00L517.31,128.00L524.26,131.00L530.84,134.40L537.08,136.80L543.01,142.50L548.67,142.80L554.07,142.50L559.25,145.70L564.21,149.00L568.98,148.60L573.57,147.00L577.99,149.00L582.26,152.60L586.38,158.00L590.37,165.80L594.23,161.00L597.97,162.00L601.60,165.50L605.13,161.00L608.55,164.00L611.88,171.50L615.13,166.40L618.29,167.60L621.37,168.90L624.37,170.80L627.30,171.40L630.16,174.50L632.96,172.70L635.69,174.50L638.36,175.80L640.98,173.00L643.54,176.40L646.04,174.50L648.50,175.00" fill="none" stroke="#e3a62c" stroke-width="1"/>
<path d="M365.90,94.12L371.10,94.12L368.50,89.68Z" fill="#e3a62c" fill-opacity="0.15" stroke="#e3a62c" stroke-width="1"/>
<path d="M388.07,98.92L393.27,98.92L390.67,94.48Z" fill="#e3a62c" fill-opacity="0.15" stroke="#e3a62c" stroke-width="1"/>
<path d="M406.82,101.72L412.02,101.72L409.42,97.28Z" fill="#e3a62c" fill-opacity="0.15" stroke="#e3a62c" stroke-width="1"/>
<path d="M423.05,103.82L428.25,103.82L425.65,99.38Z" fill="#e3a62c" fill-opacity="0.15" stroke="#e3a62c" stroke-width="1"/>
<path d="M437.38,109.72L442.58,109.72L439.98,105.28Z" fill="#e3a62c" fill-opacity="0.15" stroke="#e3a62c" stroke-width="1"/>
<path d="M450.19,111.32L455.39,111.32L452.79,106.88Z" fill="#e3a62c" fill-opacity="0.15" stroke="#e3a62c" stroke-width="1"/>
<path d="M461.78,112.52L466.98,112.52L464.38,108.08Z" fill="#e3a62c" fill-opacity="0.15" stroke="#e3a62c" stroke-width="1"/>
<path d="M472.36,118.62L477.56,118.62L474.96,114.18Z" fill="#e3a62c" fill-opacity="0.15" stroke="#e3a62c" stroke-width="1"/>
<path d="M482.09,120.32L487.29,120.32L484.69,115.88Z" fill="#e3a62c" fill-opacity="0.15" stroke="#e3a62c" stroke-width="1"/>
<path d="M491.10,122.72L496.30,122.72L493.70,118.28Z" fill="#e3a62c" fill-opacity="0.15" stroke="#e3a62c" stroke-width="1"/>
<path d="M499.49,125.42L504.69,125.42L502.09,120.98Z" fill="#e3a62c" fill-opacity="0.15" stroke="#e3a62c" stroke-width="1"/>
<path d="M507.34,127.92L512.54,127.92L509.94,123.48Z" fill="#e3a62c" fill-opacity="0.15" stroke="#e3a62c" stroke-width="1"/>
<path d="M514.71,129.92L519.91,129.92L517.31,125.48Z" fill="#e3a62c" fill-opacity="0.15" stroke="#e3a62c" stroke-width="1"/>
<path d="M521.66,132.92L526.86,132.92L524.26,128.48Z" fill="#e3a62c" fill-opacity="0.15" stroke="#e3a62c" stroke-width="1"/>
<path d="M528.24,136.32L533.44,136.32L530.84,131.88Z" fill="#e3a62c" fill-opacity="0.15" stroke="#e3a62c" stroke-width="1"/>
<path d="M534.48,138.72L539.68,138.72L537.08,134.28Z" fill="#e3a62c" fill-opacity="0.15" stroke="#e3a62c" stroke-width="1"/>
<path d="M540.41,144.42L545.61,144.42L543.01,139.98Z" fill="#e3a62c" fill-opacity="0.15" stroke="#e3a62c" stroke-width="1"/>
<path d="M546.07,144.72L551.27,144.72L548.67,140.28Z" fill="#e3a62c" fill-opacity="0.15" stroke="#e3a62c" stroke-width="1"/>
<path d="M551.47,144.42L556.67,144.42L554.07,139.98Z" fill="#e3a62c" fill-opacity="0.15" stroke="#e3a62c" stroke-width="1"/>
<path d="M556.65,147.62L561.85,147.62L559.25,143.18Z" fill="#e3a62c" fill-opacity="0.15" stroke="#e3a62c" stroke-width="1"/>
<path d="M561.61,150.92L566.81,150.92L564.21,146.48Z" fill="#e3a62c" fill-opacity="0.15" stroke="#e3a62c" stroke-width="1"/>
<path d="M566.38,150.52L571.58,150.52L568.98,146.08Z" fill="#e3a62c" fill-opacity="0.15" stroke="#e3a62c" stroke-width="1"/>
<path d="M570.97,148.92L576.17,148.92L573.57,144.48Z" fill="#e3a62c" fill-opacity="0.15" stroke="#e3a62c" stroke-width="1"/>
<path d="M575.39,150.92L580.59,150.92L577.99,146.48Z" fill="#e3a62c" fill-opacity="0.15" stroke="#e3a62c" stroke-width="1"/>
<path d="M579.66,154.52L584.86,154.52L582.26,150.08Z" fill="#e3a62c" fill-opacity="0.15" stroke="#e3a62c" stroke-width="1"/>
<path d="M583.78,159.92L588.98,159.92L586.38,155.48Z" fill="#e3a62c" fill-opacity="0.15" stroke="#e3a62c" stroke-width="1"/>
<path d="M587.77,167.72L592.97,167.72L590.37,163.28Z" fill="#e3a62c" fill-opacity="0.15" stroke="#e3a62c" stroke-width="1"/>
<path d="M591.63,162.92L596.83,162.92L594.23,158.48Z" fill="#e3a62c" fill-opacity="0.15" stroke="#e3a62c" stroke-width="1"/>
<path d="M595.37,163.92L600.57,163.92L597.97,159.48Z" fill="#e3a62c" fill-opacity="0.15" stroke="#e3a62c" stroke-width="1"/>
<path d="M599.00,167.42L604.20,167.42L601.60,162.98Z" fill="#e3a62c" fill-opacity="0.15" stroke="#e3a62c" stroke-width="1"/>
<path d="M602.53,162.92L607.73,162.92L605.13,158.48Z" fill="#e3a62c" fill-opacity="0.15" stroke="#e3a62c" stroke-width="1"/>
<path d="M605.95,165.92L611.15,165.92L608.55,161.48Z" fill="#e3a62c" fill-opacity="0.15" stroke="#e3a62c" stroke-width="1"/>
<path d="M609.28,173.42L614.48,173.42L611.88,168.98Z" fill="#e3a62c" fill-opacity="0.15" stroke="#e3a62c" stroke-width="1"/>
<path d="M612.53,168.32L617.73,168.32L615.13,163.88Z" fill="#e3a62c" fill-opacity="0.15" stroke="#e3a62c" stroke-width="1"/>
<path d="M615.69,169.52L620.89,169.52L618.29,165.08Z" fill="#e3a62c" fill-opacity="0.15" stroke="#e3a62c" stroke-width="1"/>
<path d="M618.77,170.82L623.97,170.82L621.37,166.38Z" fill="#e3a62c" fill-opacity="0.15" stroke="#e3a62c" stroke-width="1"/>
<path d="M621.77,172.72L626.97,172.72L624.37,168.28Z" fill="#e3a62c" fill-opacity="0.15" stroke="#e3a62c" stroke-width="1"/>
<path d="M624.70,173.32L629.90,173.32L627.30,168.88Z" fill="#e3a62c" fill-opacity="0.15" stroke="#e3a62c" stroke-width="1"/>
<path d="M627.56,176.42L632.76,176.42L630.16,171.98Z" fill="#e3a62c" fill-opacity="0.15" stroke="#e3a62c" stroke-width="1"/>
<path d="M630.36,174.62L635.56,174.62L632.96,170.18Z" fill="#e3a62c" fill-opacity="0.15" stroke="#e3a62c" stroke-width="1"/>
<path d="M633.09,176.42L638.29,176.42L635.69,171.98Z" fill="#e3a62c" fill-opacity="0.15" stroke="#e3a62c" stroke-width="1"/>
<path d="M635.76,177.72L640.96,177.72L638.36,173.28Z" fill="#e3a62c" fill-opacity="0.15" stroke="#e3a62c" stroke-width="1"/>
<path d="M638.38,174.92L643.58,174.92L640.98,170.48Z" fill="#e3a62c" fill-opacity="0.15" stroke="#e3a62c" stroke-width="1"/>
<path d="M640.94,178.32L646.14,178.32L643.54,173.88Z" fill="#e3a62c" fill-opacity="0.15" stroke="#e3a62c" stroke-width="1"/>
<path d="M643.44,176.42L648.64,176.42L646.04,171.98Z" fill="#e3a62c" fill-opacity="0.15" stroke="#e3a62c" stroke-width="1"/>
<path d="M645.90,176.92L651.10,176.92L648.50,172.48Z" fill="#e3a62c" fill-opacity="0.15" stroke="#e3a62c" stroke-width="1"/>
<g stroke="#8e8e8e" stroke-width="1.4" fill="none"><line x1="452.79" y1="8.5" x2="452.79" y2="11.5" />
<line x1="452.79" y1="231.5" x2="452.79" y2="228.5" />
<line x1="502.09" y1="8.5" x2="502.09" y2="11.5" />
<line x1="502.09" y1="231.5" x2="502.09" y2="228.5" />
<line x1="537.08" y1="8.5" x2="537.08" y2="11.5" />
<line x1="537.08" y1="231.5" x2="537.08" y2="228.5" />
<line x1="564.21" y1="8.5" x2="564.21" y2="11.5" />
<line x1="564.21" y1="231.5" x2="564.21" y2="228.5" />
<line x1="586.38" y1="8.5" x2="586.38" y2="11.5" />
<line x1="586.38" y1="231.5" x2="586.38" y2="228.5" />
<line x1="605.13" y1="8.5" x2="605.13" y2="11.5" />
<line x1="605.13" y1="231.5" x2="605.13" y2="228.5" />
<line x1="621.37" y1="8.5" x2="621.37" y2="11.5" />
<line x1="621.37" y1="231.5" x2="621.37" y2="228.5" />
<line x1="635.69" y1="8.5" x2="635.69" y2="11.5" />
<line x1="635.69" y1="231.5" x2="635.69" y2="228.5" />
<line x1="368.5" y1="223.83" x2="371.5" y2="223.83" />
<line x1="648.5" y1="223.83" x2="645.5" y2="223.83" />
<line x1="368.5" y1="217.34" x2="371.5" y2="217.34" />
<line x1="648.5" y1="217.34" x2="645.5" y2="217.34" />
<line x1="368.5" y1="211.72" x2="371.5" y2="211.72" />
<line x1="648.5" y1="211.72" x2="645.5" y2="211.72" />
<line x1="368.5" y1="206.76" x2="371.5" y2="206.76" />
<line x1="648.5" y1="206.76" x2="645.5" y2="206.76" />
<line x1="368.5" y1="202.33" x2="374.5" y2="202.33" />
<line x1="648.5" y1="202.33" x2="642.5" y2="202.33" />
<line x1="368.5" y1="173.15" x2="371.5" y2="173.15" />
<line x1="648.5" y1="173.15" x2="645.5" y2="173.15" />
<line x1="368.5" y1="156.09" x2="371.5" y2="156.09" />
<line x1="648.5" y1="156.09" x2="645.5" y2="156.09" />
<line x1="368.5" y1="143.98" x2="371.5" y2="143.98" />
<line x1="648.5" y1="143.98" x2="645.5" y2="143.98" />
<line x1="368.5" y1="134.59" x2="371.5" y2="134.59" />
<line x1="648.5" y1="134.59" x2="645.5" y2="134.59" />
<line x1="368.5" y1="126.91" x2="371.5" y2="126.91" />
<line x1="648.5" y1="126.91" x2="645.5" y2="126.91" />
<line x1="368.5" y1="120.43" x2="371.5" y2="120.43" />
<line x1="648.5" y1="120.43" x2="645.5" y2="120.43" />
<line x1="368.5" y1="114.80" x2="371.5" y2="114.80" />
<line x1="648.5" y1="114.80" x2="645.5" y2="114.80" />
<line x1="368.5" y1="109.85" x2="371.5" y2="109.85" />
<line x1="648.5" y1="109.85" x2="645.5" y2="109.85" />
<line x1="368.5" y1="105.41" x2="374.5" y2="105.41" />
<line x1="648.5" y1="105.41" x2="642.5" y2="105.41" />
<line x1="368.5" y1="76.24" x2="371.5" y2="76.24" />
<line x1="648.5" y1="76.24" x2="645.5" y2="76.24" />
<line x1="368.5" y1="59.17" x2="371.5" y2="59.17" />
<line x1="648.5" y1="59.17" x2="645.5" y2="59.17" />
<line x1="368.5" y1="47.07" x2="371.5" y2="47.07" />
<line x1="648.5" y1="47.07" x2="645.5" y2="47.07" />
<line x1="368.5" y1="37.67" x2="371.5" y2="37.67" />
<line x1="648.5" y1="37.67" x2="645.5" y2="37.67" />
<line x1="368.5" y1="30.00" x2="371.5" y2="30.00" />
<line x1="648.5" y1="30.00" x2="645.5" y2="30.00" />
<line x1="368.5" y1="23.51" x2="371.5" y2="23.51" />
<line x1="648.5" y1="23.51" x2="645.5" y2="23.51" />
<line x1="368.5" y1="17.89" x2="371.5" y2="17.89" />
<line x1="648.5" y1="17.89" x2="645.5" y2="17.89" />
<line x1="368.5" y1="12.93" x2="371.5" y2="12.93" />
<line x1="648.5" y1="12.93" x2="645.5" y2="12.93" />
<rect x="368.5" y="8.5" width="280.00" height="223.0" fill="none"/></g>
<line x1="211.6" y1="128.8" x2="306.7" y2="194.7" stroke="#111" stroke-width="0.95"/>
<line x1="504.3" y1="138.5" x2="640.3" y2="185.6" stroke="#111" stroke-width="0.95"/>
<rect x="187.5" y="14.5" width="128.70" height="76.3" fill="#fff" stroke="#8e8e8e" stroke-width="1.1"/>
<text x="278.60" y="26.10" text-anchor="end" font-size="11.4" stroke="none">Repulsive <tspan font-style="italic">k=2</tspan></text>
<line x1="283.90" y1="21.50" x2="310.90" y2="21.50" stroke="#3a82b6" stroke-width="1"/>
<path d="M294.80,19.58L300.00,19.58L297.40,24.02Z" fill="#3a82b6" fill-opacity="0.15" stroke="#3a82b6" stroke-width="1"/>
<text x="278.60" y="41.50" text-anchor="end" font-size="11.4" stroke="none">Repulsive <tspan font-style="italic">k=3</tspan></text>
<line x1="283.90" y1="36.90" x2="310.90" y2="36.90" stroke="#9236cc" stroke-width="1"/>
<path d="M297.40,34.50L299.80,36.90L297.40,39.30L295.00,36.90Z" fill="#9236cc" fill-opacity="0.3" stroke="#9236cc" stroke-width="1"/>
<text x="278.60" y="56.90" text-anchor="end" font-size="11.4" stroke="none">Repulsive <tspan font-style="italic">k=4</tspan></text>
<line x1="283.90" y1="52.30" x2="310.90" y2="52.30" stroke="#27937a" stroke-width="1"/>
<rect x="295.30" y="50.20" width="4.2" height="4.2" fill="none" stroke="#27937a" stroke-width="1"/>
<text x="278.60" y="72.30" text-anchor="end" font-size="11.4" stroke="none">Time to collision</text>
<line x1="283.90" y1="67.70" x2="310.90" y2="67.70" stroke="#da4846" stroke-width="1"/>
<circle cx="297.40" cy="67.70" r="2.3" fill="none" stroke="#da4846" stroke-width="1"/>
<text x="278.60" y="87.70" text-anchor="end" font-size="11.4" stroke="none" textLength="44.2" lengthAdjust="spacing">Heuristic</text>
<line x1="283.90" y1="83.10" x2="310.90" y2="83.10" stroke="#e3a62c" stroke-width="1"/>
<path d="M294.80,85.02L300.00,85.02L297.40,80.58Z" fill="#e3a62c" fill-opacity="0.15" stroke="#e3a62c" stroke-width="1"/>
<rect x="514.8" y="14.5" width="128.80" height="76.3" fill="#fff" stroke="#8e8e8e" stroke-width="1.1"/>
<text x="606.00" y="26.10" text-anchor="end" font-size="11.4" stroke="none">Repulsive <tspan font-style="italic">k=2</tspan></text>
<line x1="611.30" y1="21.50" x2="638.30" y2="21.50" stroke="#3a82b6" stroke-width="1"/>
<path d="M622.20,19.58L627.40,19.58L624.80,24.02Z" fill="#3a82b6" fill-opacity="0.15" stroke="#3a82b6" stroke-width="1"/>
<text x="606.00" y="41.50" text-anchor="end" font-size="11.4" stroke="none">Repulsive <tspan font-style="italic">k=3</tspan></text>
<line x1="611.30" y1="36.90" x2="638.30" y2="36.90" stroke="#9236cc" stroke-width="1"/>
<path d="M624.80,34.50L627.20,36.90L624.80,39.30L622.40,36.90Z" fill="#9236cc" fill-opacity="0.3" stroke="#9236cc" stroke-width="1"/>
<text x="606.00" y="56.90" text-anchor="end" font-size="11.4" stroke="none">Repulsive <tspan font-style="italic">k=4</tspan></text>
<line x1="611.30" y1="52.30" x2="638.30" y2="52.30" stroke="#27937a" stroke-width="1"/>
<rect x="622.70" y="50.20" width="4.2" height="4.2" fill="none" stroke="#27937a" stroke-width="1"/>
<text x="606.00" y="72.30" text-anchor="end" font-size="11.4" stroke="none">Time to collision</text>
<line x1="611.30" y1="67.70" x2="638.30" y2="67.70" stroke="#da4846" stroke-width="1"/>
<circle cx="624.80" cy="67.70" r="2.3" fill="none" stroke="#da4846" stroke-width="1"/>
<text x="606.00" y="87.70" text-anchor="end" font-size="11.4" stroke="none" textLength="44.2" lengthAdjust="spacing">Heuristic</text>
<line x1="611.30" y1="83.10" x2="638.30" y2="83.10" stroke="#e3a62c" stroke-width="1"/>
<path d="M622.20,85.02L627.40,85.02L624.80,80.58Z" fill="#e3a62c" fill-opacity="0.15" stroke="#e3a62c" stroke-width="1"/>
<text x="102.8" y="217.6" font-size="15.5">Disordered State</text>
<text x="440.9" y="217.6" font-size="15.2">Lane State</text>
<path transform="translate(272.5,157.2)" d="M0,3.3C0.8,1.1 2,0.45 3.6,0.45L9.1,0.45L8.7,2.1L5.85,2.1C5.25,4.1 4.9,5.9 5.05,7.2C5.2,8.2 6,8.25 6.85,7.45L7.1,7.9C6.25,9.1 5.25,9.5 4.35,9.25C3.3,8.9 3.2,7.7 3.55,6.3L4.4,2.1L3.4,2.1C2.2,2.1 1.3,2.6 0.55,3.65Z" fill="#111"/>
<text x="281.6" y="159.2" font-size="10.5">-2</text>
<path transform="translate(560.1,180.9)" d="M0,3.3C0.8,1.1 2,0.45 3.6,0.45L9.1,0.45L8.7,2.1L5.85,2.1C5.25,4.1 4.9,5.9 5.05,7.2C5.2,8.2 6,8.25 6.85,7.45L7.1,7.9C6.25,9.1 5.25,9.5 4.35,9.25C3.3,8.9 3.2,7.7 3.55,6.3L4.4,2.1L3.4,2.1C2.2,2.1 1.3,2.6 0.55,3.65Z" fill="#111"/>
<text x="572.6" y="182.6" font-size="10.5">-1</text>
<text x="16" y="13.8" font-size="15.5">10</text><text x="31.6" y="8.4" font-size="10.5">1</text>
<text x="16.4" y="110.9" font-size="15.5">10</text><text x="31" y="105.3" font-size="10.5">0</text>
<text x="12.5" y="208.2" font-size="15.5">10</text><text x="26.2" y="202.8" font-size="10.5">-1</text>
<text x="43.70" y="252.6" font-size="15" text-anchor="middle">0.5</text>
<text x="323.70" y="252.6" font-size="15" text-anchor="middle">5</text>
<text x="370.70" y="252.6" font-size="15" text-anchor="middle">0.5</text>
<text x="650.50" y="252.6" font-size="15" text-anchor="middle">5</text>
<path transform="translate(176.9,266.9)" d="M0,3.4C0.8,1.2 2,0.4 3.6,0.4L9.1,0.4L8.6,2.4L6.1,2.4C5.4,4.4 5.0,6.0 5.2,7.1C5.4,8.0 6.2,8.0 7.0,7.2L7.4,7.7C6.5,9.1 5.3,9.7 4.1,9.4C2.8,9.0 2.7,7.6 3.1,6.1L4.0,2.4L3.4,2.4C2.2,2.4 1.3,2.9 0.6,3.9Z" fill="#111"/>
<path transform="translate(503.3,267.1)" d="M0,3.4C0.8,1.2 2,0.4 3.6,0.4L9.1,0.4L8.6,2.4L6.1,2.4C5.4,4.4 5.0,6.0 5.2,7.1C5.4,8.0 6.2,8.0 7.0,7.2L7.4,7.7C6.5,9.1 5.3,9.7 4.1,9.4C2.8,9.0 2.7,7.6 3.1,6.1L4.0,2.4L3.4,2.4C2.2,2.4 1.3,2.9 0.6,3.9Z" fill="#111"/>
<text transform="translate(11.2,134.8) rotate(-90)" font-size="14" font-style="italic"><tspan x="-0.1">V</tspan><tspan x="8.4">(</tspan><tspan x="15.2" font-size="17">τ</tspan><tspan x="24.4">)</tspan></text>
</g></svg>
</body></html>
